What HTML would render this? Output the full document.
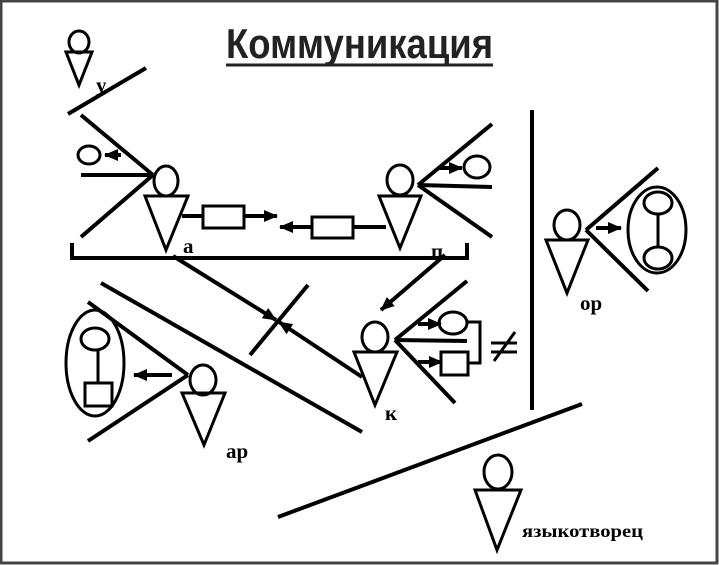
<!DOCTYPE html>
<html><head><meta charset="utf-8"><style>
html,body{margin:0;padding:0;background:#fff;}
svg{display:block;}
</style></head><body>
<svg width="719" height="565" viewBox="0 0 719 565" xmlns="http://www.w3.org/2000/svg">
<defs>
<marker id="ah" markerWidth="14" markerHeight="12" refX="13" refY="6" orient="auto" markerUnits="userSpaceOnUse">
<path d="M0,0 L14,6 L0,12 z" fill="#000"/></marker>
</defs>
<rect x="1" y="1" width="716" height="562" fill="#fff" stroke="#444" stroke-width="3"/>
<text x="226" y="58" font-family="Liberation Sans Narrow, Liberation Sans, sans-serif" font-weight="bold" font-size="42" fill="#222" textLength="267" lengthAdjust="spacingAndGlyphs">Коммуникация</text>
<line x1="226" y1="65" x2="493" y2="65" stroke="#222" stroke-width="3"/>
<g fill="none" stroke="#000" stroke-width="4">
<ellipse cx="79" cy="42" rx="10" ry="11" stroke-width="3"/>
<polygon points="66,52 92,52 79,85" stroke-width="3"/>
<line x1="68" y1="114" x2="146" y2="68"/>
<line x1="81" y1="115" x2="153" y2="175"/>
<line x1="81" y1="175" x2="153" y2="175"/>
<line x1="81" y1="237" x2="153" y2="175"/>
<ellipse cx="89" cy="155" rx="11" ry="9" stroke-width="3"/>
<line x1="121" y1="155" x2="105" y2="155" marker-end="url(#ah)"/>
<ellipse cx="166" cy="181" rx="12" ry="15" stroke-width="3"/>
<polygon points="145,196 188,196 166,250" stroke-width="3"/>
<line x1="182" y1="216" x2="203" y2="216"/>
<rect x="203" y="206" width="41" height="22" stroke-width="3"/>
<line x1="244" y1="216" x2="277" y2="216" marker-end="url(#ah)"/>
<line x1="312" y1="227" x2="280" y2="227" marker-end="url(#ah)"/>
<rect x="312" y="217" width="41" height="21" stroke-width="3"/>
<line x1="353" y1="227" x2="386" y2="227"/>
<ellipse cx="400" cy="180" rx="13" ry="15" stroke-width="3"/>
<polygon points="379,196 421,196 400,248" stroke-width="3"/>
<line x1="418" y1="185" x2="492" y2="124"/>
<line x1="418" y1="185" x2="492" y2="187"/>
<line x1="418" y1="185" x2="492" y2="237"/>
<ellipse cx="477" cy="167" rx="13" ry="11" stroke-width="3"/>
<line x1="438" y1="168" x2="462" y2="168" marker-end="url(#ah)"/>
<polyline points="72,243 72,258 467,258 467,243"/>
<line x1="532" y1="110" x2="532" y2="410"/>
<ellipse cx="567" cy="225" rx="13" ry="15" stroke-width="3"/>
<polygon points="546,240 588,240 567,293" stroke-width="3"/>
<line x1="586" y1="230" x2="658" y2="168"/>
<line x1="586" y1="230" x2="648" y2="291"/>
<line x1="596" y1="228" x2="621" y2="228" marker-end="url(#ah)"/>
<ellipse cx="657" cy="230" rx="29" ry="43" stroke-width="3"/>
<ellipse cx="658" cy="203" rx="14" ry="11" stroke-width="3"/>
<ellipse cx="658" cy="258" rx="14" ry="11" stroke-width="3"/>
<line x1="658" y1="214" x2="658" y2="247" stroke-width="3"/>
<line x1="445" y1="255" x2="381" y2="310" marker-end="url(#ah)"/>
<ellipse cx="375" cy="337" rx="13" ry="15" stroke-width="3"/>
<polygon points="354,352 397,352 375,405" stroke-width="3"/>
<line x1="395" y1="340" x2="467" y2="281"/>
<line x1="395" y1="340" x2="467" y2="341"/>
<line x1="395" y1="340" x2="455" y2="403"/>
<line x1="418" y1="324" x2="441" y2="324" marker-end="url(#ah)"/>
<ellipse cx="453" cy="323" rx="14" ry="11" stroke-width="3"/>
<line x1="418" y1="362" x2="442" y2="362" marker-end="url(#ah)"/>
<rect x="441" y="352" width="27" height="23" stroke-width="3"/>
<polyline points="467,322 480,322 480,363 468,363" stroke-width="3"/>
<line x1="173" y1="256" x2="276" y2="320" marker-end="url(#ah)"/>
<line x1="362" y1="377" x2="279" y2="322" marker-end="url(#ah)"/>
<line x1="250" y1="355" x2="308" y2="285"/>
<line x1="101" y1="283" x2="362" y2="432"/>
<ellipse cx="203" cy="380" rx="13" ry="15" stroke-width="3"/>
<polygon points="182,393 225,393 204,445" stroke-width="3"/>
<line x1="188" y1="375" x2="88" y2="302"/>
<line x1="188" y1="375" x2="88" y2="441"/>
<line x1="172" y1="375" x2="134" y2="375" marker-end="url(#ah)"/>
<ellipse cx="95" cy="363" rx="29" ry="53" stroke-width="3"/>
<ellipse cx="95" cy="339" rx="14" ry="11" stroke-width="3"/>
<line x1="98" y1="350" x2="98" y2="383" stroke-width="3"/>
<rect x="85" y="383" width="27" height="23" stroke-width="3"/>
<line x1="278" y1="517" x2="582" y2="404"/>
<ellipse cx="498" cy="472" rx="14" ry="17" stroke-width="3"/>
<polygon points="475,490 521,490 497,550" stroke-width="3"/>
<!-- not-equal -->
<line x1="491" y1="343" x2="517" y2="343" stroke-width="3"/>
<line x1="491" y1="352" x2="517" y2="352" stroke-width="3"/>
<line x1="494" y1="361" x2="515" y2="332" stroke-width="3"/>
</g>
<g font-family="Liberation Serif, serif" font-weight="bold" fill="#000">
<text x="96" y="92" font-size="21">у</text>
<text x="183" y="253" font-size="21">а</text>
<text x="431" y="258" font-size="21">п</text>
<text x="580" y="310" font-size="21">ор</text>
<text x="385" y="420" font-size="21">к</text>
<text x="226" y="458" font-size="21">ар</text>
<text x="522" y="537" font-size="18" textLength="121" lengthAdjust="spacingAndGlyphs">языкотворец</text>
</g>
</svg>
</body></html>
